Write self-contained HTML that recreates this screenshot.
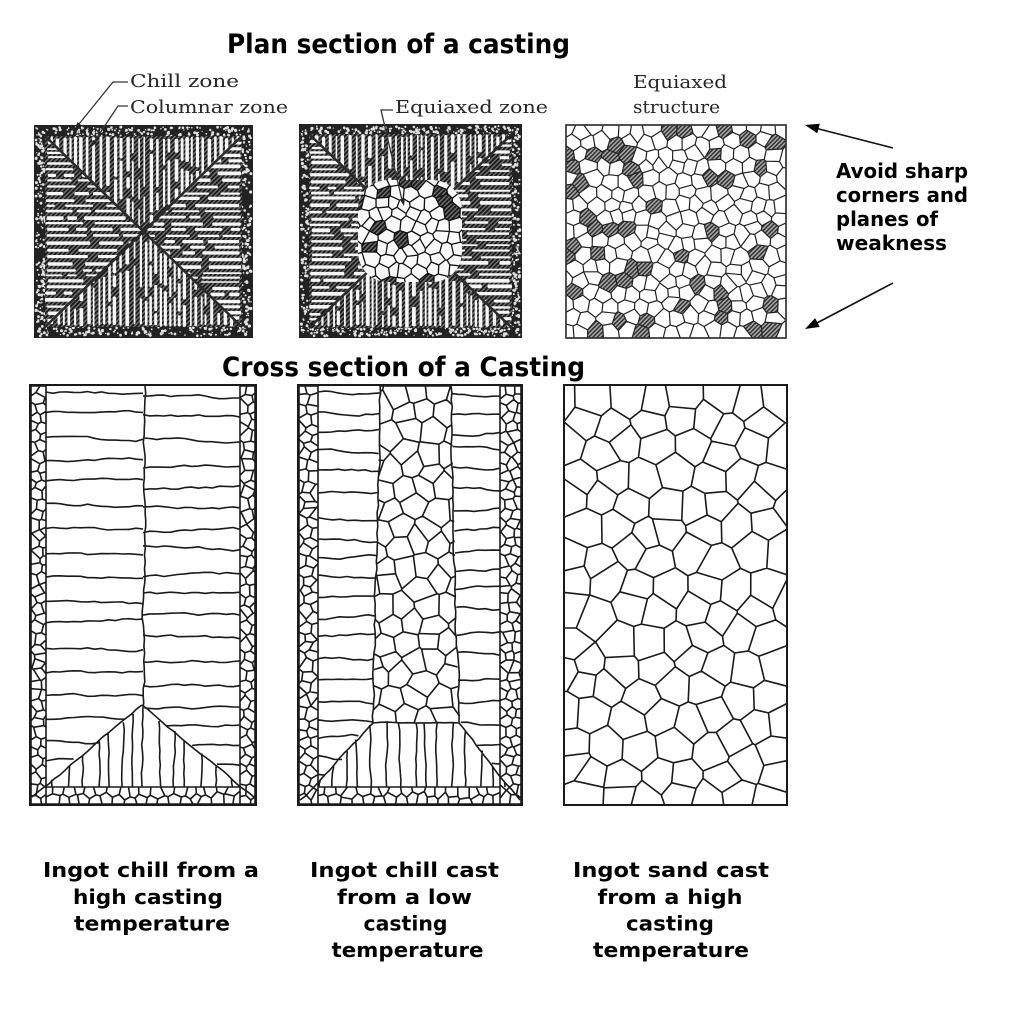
<!DOCTYPE html>
<html><head><meta charset="utf-8">
<style>
html,body{margin:0;padding:0;background:#fff;width:1021px;height:1024px;overflow:hidden}
svg{display:block}
.t{font-family:"DejaVu Sans","Liberation Sans",sans-serif;font-weight:bold;fill:#000}
.s{font-family:"DejaVu Serif","Liberation Serif",serif;fill:#262626}
</style></head><body>
<svg width="1021" height="1024" viewBox="0 0 1021 1024" xmlns="http://www.w3.org/2000/svg">
<defs>
<pattern id="hatch" width="3.2" height="3.2" patternUnits="userSpaceOnUse" patternTransform="rotate(45)"><rect width="3.2" height="3.2" fill="#707070"/><rect width="1.8" height="3.2" fill="#1a1a1a"/></pattern>
<pattern id="hatch2" width="3" height="3" patternUnits="userSpaceOnUse" patternTransform="rotate(45)"><rect width="3" height="3" fill="#a8a8a8"/><rect width="1.4" height="3" fill="#2a2a2a"/></pattern>
</defs>

<rect x="34" y="125" width="219" height="213" fill="url(#hatch)"/>
<rect x="299" y="124" width="223" height="214" fill="url(#hatch)"/>

<g id="gen"></g>

<rect x="30" y="385" width="226" height="420" fill="none" stroke="#1a1a1a" stroke-width="2"/>
<rect x="298" y="385" width="224" height="420" fill="none" stroke="#1a1a1a" stroke-width="2"/>
<rect x="564" y="385" width="223" height="420" fill="none" stroke="#1a1a1a" stroke-width="2"/>
<rect x="566" y="125" width="220" height="213" fill="none" stroke="#333" stroke-width="1.6"/>

<text class="t" x="398.5" y="53" font-size="27" text-anchor="middle" textLength="343" lengthAdjust="spacingAndGlyphs">Plan section of a casting</text>
<text class="t" x="403.5" y="376" font-size="27" text-anchor="middle" textLength="363" lengthAdjust="spacingAndGlyphs">Cross section of a Casting</text>

<text class="s" x="130" y="87" font-size="18" textLength="109" lengthAdjust="spacingAndGlyphs">Chill  zone</text>
<text class="s" x="130" y="113" font-size="18" textLength="158" lengthAdjust="spacingAndGlyphs">Columnar  zone</text>
<text class="s" x="395" y="113" font-size="18" textLength="153" lengthAdjust="spacingAndGlyphs">Equiaxed  zone</text>
<text class="s" x="633" y="88" font-size="18" textLength="94" lengthAdjust="spacingAndGlyphs">Equiaxed</text>
<text class="s" x="633" y="113" font-size="18" textLength="87" lengthAdjust="spacingAndGlyphs">structure</text>

<g fill="none" stroke="#333" stroke-width="1.3">
<polyline points="128,82 113,82 79,124"/>
<polyline points="128,106 118,106 94,142"/>
<polyline points="393,110 381,110 402,200"/>
<line x1="893" y1="148" x2="815" y2="128" stroke="#111" stroke-width="1.6"/>
<line x1="893" y1="283" x2="815" y2="324" stroke="#111" stroke-width="1.6"/>
</g>
<g fill="#222">
<polygon points="75,129 81.3,125.2 77.5,122"/>
<polygon points="91,147 97,142.6 92.8,139.8"/>
<polygon points="404,206 404.8,198.6 400,199.8"/>
<polygon points="805,125 819.8,123.7 817.2,133.3" fill="#000"/>
<polygon points="805,329 819.7,326.9 815.1,318.1" fill="#000"/>
</g>

<text class="t" x="836" y="178" font-size="20" textLength="132" lengthAdjust="spacingAndGlyphs">Avoid sharp</text>
<text class="t" x="836" y="202" font-size="20" textLength="132" lengthAdjust="spacingAndGlyphs">corners and</text>
<text class="t" x="836" y="226" font-size="20" textLength="102" lengthAdjust="spacingAndGlyphs">planes of</text>
<text class="t" x="836" y="250" font-size="20" textLength="111" lengthAdjust="spacingAndGlyphs">weakness</text>

<g class="t" font-size="20.5" text-anchor="middle">
<text x="151" y="877" textLength="216" lengthAdjust="spacingAndGlyphs">Ingot chill from a</text>
<text x="148" y="904" textLength="150" lengthAdjust="spacingAndGlyphs">high casting</text>
<text x="152" y="930.5" textLength="156" lengthAdjust="spacingAndGlyphs">temperature</text>

<text x="404.5" y="877" textLength="189" lengthAdjust="spacingAndGlyphs">Ingot chill cast</text>
<text x="404.5" y="904" textLength="135" lengthAdjust="spacingAndGlyphs">from a low</text>
<text x="405.5" y="930.5" textLength="84" lengthAdjust="spacingAndGlyphs">casting</text>
<text x="407.5" y="957" textLength="152" lengthAdjust="spacingAndGlyphs">temperature</text>

<text x="671" y="877" textLength="196" lengthAdjust="spacingAndGlyphs">Ingot sand cast</text>
<text x="670" y="904" textLength="145" lengthAdjust="spacingAndGlyphs">from a high</text>
<text x="670" y="930.5" textLength="88" lengthAdjust="spacingAndGlyphs">casting</text>
<text x="671" y="957" textLength="156" lengthAdjust="spacingAndGlyphs">temperature</text>
</g>
</svg>

<script>
(function(){
var out='';
function R(a){return function(){a|=0;a=a+0x6D2B79F5|0;var t=Math.imul(a^a>>>15,1|a);t=t+Math.imul(t^t>>>7,61|t)^t;return((t^t>>>14)>>>0)/4294967296;};}
function f(n){return Math.round(n*10)/10;}
function clip(p,mx,my,dx,dy){var o=[],n=p.length;for(var i=0;i<n;i++){var a=p[i],b=p[(i+1)%n],fa=(a[0]-mx)*dx+(a[1]-my)*dy,fb=(b[0]-mx)*dx+(b[1]-my)*dy;if(fa<=0)o.push(a);if((fa<0&&fb>0)||(fa>0&&fb<0)){var t=fa/(fa-fb);o.push([a[0]+t*(b[0]-a[0]),a[1]+t*(b[1]-a[1])]);}}return o;}
function sites(x0,y0,x1,y1,sp,j,r){var s=[],row=0;for(var y=y0+sp*0.35;y<y1+sp*0.3;y+=sp*0.866,row++){for(var x=x0+(row%2?sp*0.55:sp*0.05);x<x1+sp*0.3;x+=sp){s.push([x+(r()-0.5)*2*j*sp,y+(r()-0.5)*2*j*sp]);}}return s;}
function vor(s,x0,y0,x1,y1,rad){var c=[],r2=rad*rad;for(var i=0;i<s.length;i++){var a=s[i],p=[[x0,y0],[x1,y0],[x1,y1],[x0,y1]];for(var k=0;k<s.length&&p.length;k++){if(k===i)continue;var b=s[k],dx=b[0]-a[0],dy=b[1]-a[1];if(dx*dx+dy*dy>r2)continue;p=clip(p,(a[0]+b[0])/2,(a[1]+b[1])/2,dx,dy);}if(p.length>2)c.push(p);}return c;}
function pd(p){var s='M'+f(p[0][0])+','+f(p[0][1]);for(var i=1;i<p.length;i++)s+='L'+f(p[i][0])+','+f(p[i][1]);return s+'Z';}
function wl(x0,y0,x1,y1,r,amp){var L=Math.sqrt((x1-x0)*(x1-x0)+(y1-y0)*(y1-y0))||1,n=Math.max(2,Math.round(L/7)),nx=-(y1-y0)/L,ny=(x1-x0)/L,o=0,s='M'+f(x0)+','+f(y0);for(var i=1;i<=n;i++){var t=i/n;o=o*0.7+(r()-0.5)*amp;if(i===n)o=0;s+='L'+f(x0+(x1-x0)*t+nx*o)+','+f(y0+(y1-y0)*t+ny*o);}return s;}
function chill(x0,y0,x1,y1,sp,r){var c=vor(sites(x0,y0,x1,y1,sp,0.3,r),x0,y0,x1,y1,sp*3.5),s='';for(var i=0;i<c.length;i++)s+=pd(c[i]);return s;}
var LS=' fill="none" stroke="#1a1a1a" stroke-width="1.6" stroke-linejoin="round"';

function plan(a0,b0,a1,b1,bw,seed,eq){
 var r=R(seed),X0=a0+bw,Y0=b0+bw,X1=a1-bw,Y1=b1-bw,cx=(X0+X1)/2,cy=(Y0+Y1)/2,id='p'+seed;
 out+='<rect x="'+a0+'" y="'+b0+'" width="'+(a1-a0)+'" height="'+(b1-b0)+'" fill="#222"/>';
 var dots='',cnt=0,it=0;
 while(cnt<600&&it<30000){it++;var x=a0+2+r()*(a1-a0-4),y=b0+2+r()*(b1-b0-4);if(x>X0&&x<X1&&y>Y0&&y<Y1)continue;cnt++;dots+='<circle cx="'+f(x)+'" cy="'+f(y)+'" r="'+f(0.6+r()*1.0)+'"/>';}
 out+='<g fill="#e0e0e0">'+dots+'</g>';
 out+='<rect x="'+X0+'" y="'+Y0+'" width="'+(X1-X0)+'" height="'+(Y1-Y0)+'" fill="url(#hatch)"/>';
 var T={t:[[X0,Y0],[X1,Y0],[cx,cy]],b:[[X0,Y1],[X1,Y1],[cx,cy]],l:[[X0,Y0],[X0,Y1],[cx,cy]],r:[[X1,Y0],[X1,Y1],[cx,cy]]};
 for(var k in T){out+='<clipPath id="'+id+k+'"><path d="'+pd(T[k])+'"/></clipPath>';}
 function rc(x,y,w,h){return '<rect x="'+f(x)+'" y="'+f(y)+'" width="'+f(w)+'" height="'+f(h)+'" rx="1.2"/>';}
 var st='',sb='',sl='',sr='',x,y,w,len;
 for(x=X0;x<X1;){w=1.6+r()*2.2;y=Y0+r()*3;while(y<cy){len=10+r()*50;st+=rc(x,y,w,len);y+=len+2+r()*9;}x+=w+1.8+r()*2.8;}
 for(x=X0;x<X1;){w=1.6+r()*2.2;y=Y1-r()*3;while(y>cy){len=10+r()*50;sb+=rc(x,y-len,w,len);y-=len+2+r()*9;}x+=w+1.8+r()*2.8;}
 for(y=Y0;y<Y1;){w=1.6+r()*2.2;x=X0+r()*3;while(x<cx){len=8+r()*36;sl+=rc(x,y,len,w);x+=len+3+r()*10;}y+=w+1.8+r()*2.8;}
 for(y=Y0;y<Y1;){w=1.6+r()*2.2;x=X1-r()*3;while(x>cx){len=8+r()*36;sr+=rc(x-len,y,len,w);x-=len+3+r()*10;}y+=w+1.8+r()*2.8;}
 out+='<g fill="#f6f6f6" clip-path="url(#'+id+'t)">'+st+'</g>';
 out+='<g fill="#f6f6f6" clip-path="url(#'+id+'b)">'+sb+'</g>';
 out+='<g fill="#f6f6f6" clip-path="url(#'+id+'l)">'+sl+'</g>';
 out+='<g fill="#f6f6f6" clip-path="url(#'+id+'r)">'+sr+'</g>';
 out+='<path d="M'+X0+','+Y0+'L'+X1+','+Y1+'M'+X1+','+Y0+'L'+X0+','+Y1+'" stroke="#2a2a2a" stroke-width="2.5" fill="none"/>';
 if(eq){
  var ex=358,ey=180,ewd=104,eht=102;
  out+='<clipPath id="'+id+'e"><rect x="'+ex+'" y="'+ey+'" width="'+ewd+'" height="'+eht+'" rx="30"/></clipPath>';
  var ce=vor(sites(ex-4,ey-4,ex+ewd+4,ey+eht+4,13,0.3,r),ex-4,ey-4,ex+ewd+4,ey+eht+4,50),pw='',ph='';
  for(var i=0;i<ce.length;i++){if(r()<0.14)ph+=pd(ce[i]);else pw+=pd(ce[i]);}
  out+='<g clip-path="url(#'+id+'e)"><rect x="'+ex+'" y="'+ey+'" width="'+ewd+'" height="'+eht+'" fill="#333"/><path d="'+pw+'" fill="#fafafa"/><path d="'+ph+'" fill="url(#hatch)"/><path d="'+pw+ph+'" fill="none" stroke="#111" stroke-width="1.3" stroke-linejoin="round"/></g>';
 }
}
plan(34,125,253,338,11,21,false);
plan(299,124,522,338,10,37,true);

(function(){var rq=R(10),cq=vor(sites(566,125,786,338,14.5,0.3,R(12)),566,125,786,338,55),sw='',sh='';
 for(var i=0;i<cq.length;i++){if(rq()<0.2)sh+=pd(cq[i]);else sw+=pd(cq[i]);}
 out+='<rect x="566" y="125" width="220" height="213" fill="#fff"/>';
 out+='<path d="'+sh+'" fill="url(#hatch2)"/>';
 out+='<path d="'+sw+sh+'" fill="none" stroke="#222" stroke-width="1.2" stroke-linejoin="round"/>';
})();

(function(){var r=R(101),d='',y,ye,x,xe,xs,yd;
 d+=chill(31,386,46,804,11,R(1));
 d+=chill(240,386,255,804,11,R(2));
 d+=chill(46,787,240,804,11,R(3));
 d+=wl(145,386,142,787,r,2);
 d+=wl(142,705,32,797,r,1.5);
 d+=wl(142,705,254,797,r,1.5);
 y=392;while(y<788){ye=y+(r()-0.5)*8;xe=y<705?143:142-(y-705)*110/90;if(xe>50)d+=wl(46,y,xe,ye,r,2.5);y+=18+r()*8;}
 y=398;while(y<788){ye=y+(r()-0.5)*8;xs=y<705?143:142+(y-705)*112/90;if(xs<236)d+=wl(xs,ye,240,y,r,2.5);y+=18+r()*8;}
 for(x=52;x<238;x+=10+r()*7){if(Math.abs(x-142)<5)continue;yd=x<142?705+(142-x)*90/110:705+(x-142)*90/112;if(yd<783)d+=wl(x,787,x+(r()-0.5)*4,yd+1,r,1.5);}
 out+='<path d="'+d+'"'+LS+'/>';
})();

(function(){var r=R(202),d='',y,ye,x,xe,xs,yt;
 d+=chill(299,386,318,804,11,R(4));
 d+=chill(500,386,521,804,11,R(5));
 d+=chill(318,787,500,804,11,R(6));
 d+=wl(380,386,373,723,r,2)+wl(451,386,459,723,r,2)+wl(373,723,459,723,r,1.5);
 d+=wl(373,723,300,800,r,1.5)+wl(459,723,520,800,r,1.5);
 y=392;while(y<790){ye=y+(r()-0.5)*8;xe=y<723?380-(y-388)*7/335:373-(y-723)*73/77;if(xe>322)d+=wl(318,y,xe,ye,r,2.5);y+=17+r()*8;}
 y=396;while(y<790){ye=y+(r()-0.5)*8;xs=y<723?451+(y-388)*8/335:459+(y-723)*61/77;if(xs<496)d+=wl(xs,ye,500,y,r,2.5);y+=17+r()*8;}
 for(x=306;x<518;x+=9+r()*8){yt=x<373?723+(373-x)*77/73:(x>459?723+(x-459)*77/61:723);if(yt<783)d+=wl(x,787,x+(r()-0.5)*5,yt,r,1.5);}
 out+='<path d="'+d+'"'+LS+'/>';
 out+='<clipPath id="ceq"><polygon points="380,386 451,386 459,723 373,723"/></clipPath>';
 var c=vor(sites(370,386,462,725,22,0.32,R(7)),370,386,462,725,80),s='';
 for(var i=0;i<c.length;i++)s+=pd(c[i]);
 out+='<path clip-path="url(#ceq)" d="'+s+'"'+LS+'/>';
})();

(function(){var c=vor(sites(564,385,787,805,31,0.3,R(9)),564,385,787,805,110),s='';
 for(var i=0;i<c.length;i++)s+=pd(c[i]);
 out+='<path d="'+s+'"'+LS+'/>';
})();

document.getElementById('gen').innerHTML=out;
})();
</script>
</body></html>
